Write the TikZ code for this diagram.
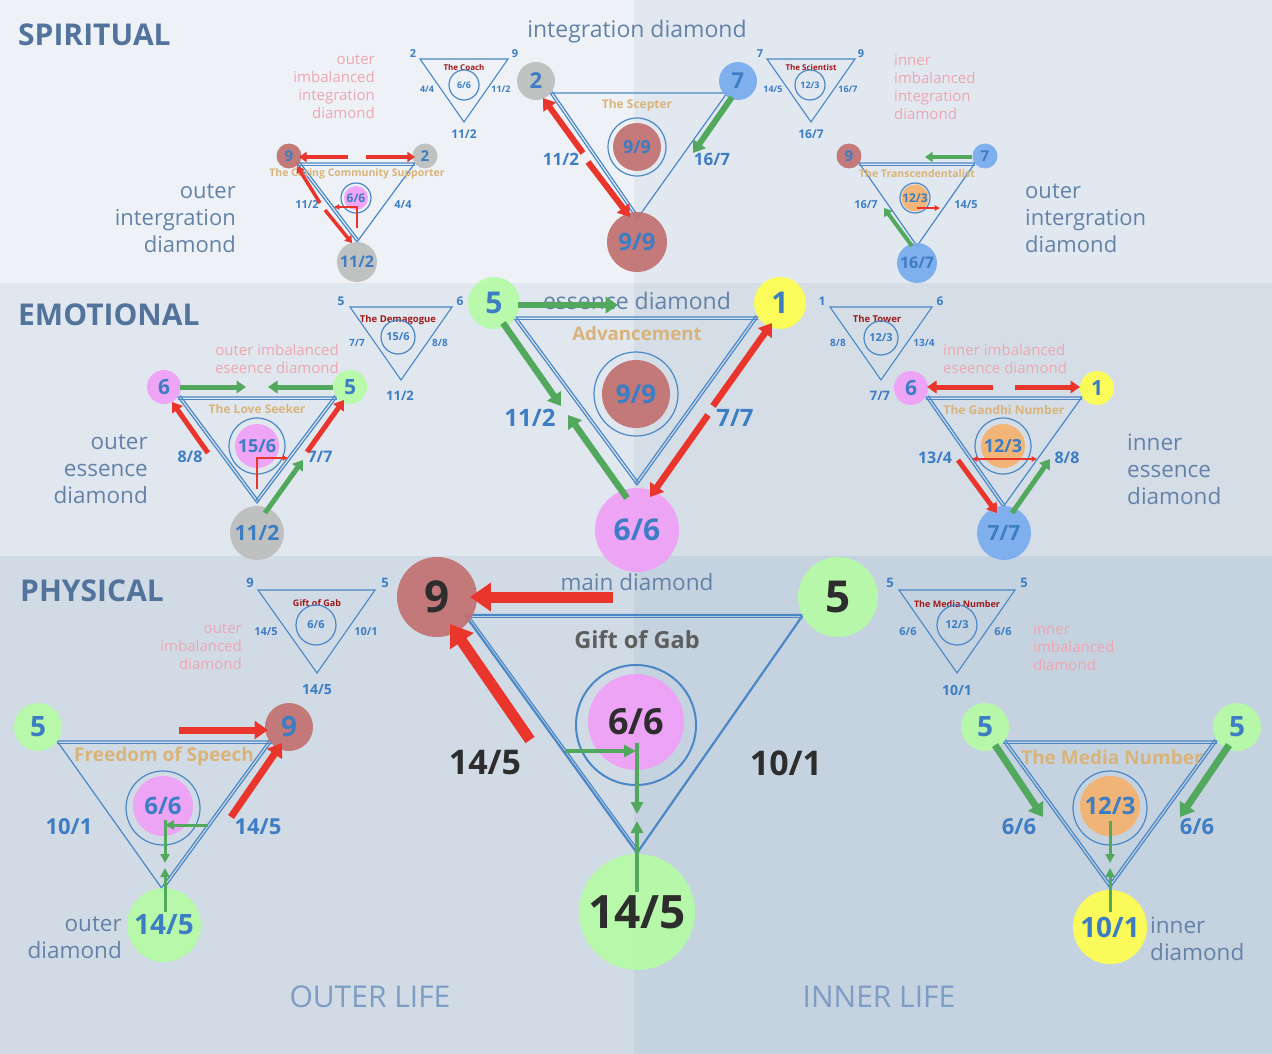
\documentclass[tikz,border=0pt]{standalone}
\usepackage{fontspec}
\setmainfont{Open Sans}
\usetikzlibrary{arrows.meta,calc}
\definecolor{bgAL}{HTML}{EEF2F7}
\definecolor{bgAR}{HTML}{E2E8F0}
\definecolor{bgBL}{HTML}{E1E7EE}
\definecolor{bgBR}{HTML}{D5DEE7}
\definecolor{bgCL}{HTML}{D1DBE5}
\definecolor{bgCR}{HTML}{C5D2DF}
\definecolor{blueT}{HTML}{3C7DC3}
\definecolor{lineC}{HTML}{4A87C6}
\definecolor{headC}{HTML}{52739C}
\definecolor{greyT}{HTML}{6482A8}
\definecolor{pinkT}{HTML}{EDA7B2}
\definecolor{goldT}{HTML}{D9B47A}
\definecolor{dredT}{HTML}{9E1A1A}
\definecolor{darkT}{HTML}{2D2D2D}
\definecolor{gabT}{HTML}{5E5E5E}
\definecolor{lifeT}{HTML}{7E9CC4}
\definecolor{cGrey}{HTML}{BDBDBD}
\definecolor{cRed}{HTML}{C27070}
\definecolor{cBlue}{HTML}{78ABEE}
\definecolor{cPink}{HTML}{F0A0F7}
\definecolor{cGreen}{HTML}{B5FBA6}
\definecolor{cYellow}{HTML}{FFFF4F}
\definecolor{cOrange}{HTML}{F3B26E}
\definecolor{aRed}{HTML}{E9352B}
\definecolor{aGreen}{HTML}{52A95D}
\newcommand{\myfs}[2]{\fontsize{#1}{#2}\selectfont}
\newcommand{\dside}[3][tri]{\draw[#1] ($(#2)!2.6pt!-90:(#3)$) -- ($(#3)!2.6pt!90:(#2)$);}
\begin{document}
\begin{tikzpicture}[x=1pt,y=-1pt,
  tri/.style={draw=lineC, line width=1.2pt},
  trib/.style={draw=lineC, line width=2.2pt},
  stri/.style={draw=lineC, line width=1.1pt},
  vc/.style n args={3}{circle, inner sep=0pt, minimum size=#1, fill=#2, fill opacity=.92, text opacity=1, text=blueT, font=\bfseries\myfs{#3}{#3}},
  vd/.style n args={3}{circle, inner sep=0pt, minimum size=#1, fill=#2, fill opacity=.92, text opacity=1, text=darkT, font=\bfseries\myfs{#3}{#3}},
  ring/.style={circle, draw=lineC, line width=1.2pt, minimum size=#1, inner sep=0pt},
  lab/.style={text=blueT, font=\bfseries\myfs{#1}{#1}, inner sep=0pt},
  dlab/.style={text=darkT, font=\bfseries\myfs{#1}{#1}, inner sep=0pt},
  ttl/.style={text=goldT, font=\bfseries\myfs{#1}{#1}, inner sep=0pt},
  stl/.style={text=dredT, font=\bfseries\myfs{#1}{#1}, inner sep=0pt},
  head/.style={text=headC, font=\bfseries\myfs{30}{30}, inner sep=0pt, anchor=west},
  gtx/.style n args={2}{text=greyT, font=\myfs{#1}{#2}, inner sep=0pt},
  ptx/.style={text=pinkT, font=\myfs{15}{18}, inner sep=0pt},
  ra/.style={draw=aRed, line width=#1, -{Triangle[length=0pt 1.9 0, width=0pt 2.5 0]}},
  ga/.style={draw=aGreen, line width=#1, -{Triangle[length=0pt 1.9 0, width=0pt 2.5 0]}},
  rt/.style={draw=aRed, line width=#1, -{Triangle[length=0pt 3 0, width=0pt 3 0]}},
  gt/.style={draw=aGreen, line width=#1, -{Triangle[length=0pt 3 0, width=0pt 3 0]}}]
\useasboundingbox (0,0) rectangle (1272,1054);
% ---------- backgrounds
\fill[bgAL] (0,0) rectangle (634,283);
\fill[bgAR] (634,0) rectangle (1272,283);
\fill[bgBL] (0,283) rectangle (634,556);
\fill[bgBR] (634,283) rectangle (1272,556);
\fill[bgCL] (0,556) rectangle (634,1054);
\fill[bgCR] (634,556) rectangle (1272,1054);
% ---------- headings and captions
\node[head] (hSp) at (18,35) {SPIRITUAL};
\node[head] (hEm) at (18,315) {EMOTIONAL};
\node[head] (hPh) at (20,591) {PHYSICAL};
\node[gtx={23}{26}] (tInt) at (637,32) {integration diamond};
\node[gtx={23}{26}] (tEss) at (637,301) {essence diamond};
\node[gtx={22.5}{26}] (tMain) at (637,582) {main diamond};
\node[gtx={22}{27}, align=right, anchor=east] (tOI) at (236,218) {outer\\intergration\\diamond};
\node[gtx={22}{27}, align=left, anchor=west] (tII) at (1025,218) {outer\\intergration\\diamond};
\node[gtx={22.5}{27}, align=right, anchor=east] (tOE) at (148,469) {outer\\essence\\diamond};
\node[gtx={22.5}{27}, align=left, anchor=west] (tIE) at (1127,469) {inner\\essence\\diamond};
\node[gtx={22.5}{27}, align=right, anchor=east] (tOD) at (122,938) {outer\\diamond};
\node[gtx={22.5}{27}, align=left, anchor=west] (tID) at (1150,939) {inner\\diamond};
\node[ptx, align=right, anchor=east] (pOI) at (375,87) {outer\\imbalanced\\integration\\diamond};
\node[ptx, align=left, anchor=west] (pII) at (894,87) {inner\\imbalanced\\integration\\diamond};
\node[ptx, align=right, anchor=east] (pOE) at (339,359) {outer imbalanced\\eseence diamond};
\node[ptx, align=left, anchor=west] (pIE) at (943,359) {inner imbalanced\\eseence diamond};
\node[ptx, align=right, anchor=east] (pOD) at (242,647) {outer\\imbalanced\\diamond};
\node[ptx, align=left, anchor=west] (pID) at (1033,647) {inner\\imbalanced\\diamond};
\node[text=lifeT, font=\myfs{30}{30}, inner sep=0pt] (tOL) at (370,997) {OUTER LIFE};
\node[text=lifeT, font=\myfs{30}{30}, inner sep=0pt] (tIL) at (879,997) {INNER LIFE};

% ================= SPIRITUAL
% --- small: The Coach
\coordinate (ssA) at (420,59); \coordinate (ssB) at (508,59); \coordinate (ssC) at (464,122);
\draw[stri] (ssA) -- (ssB) -- (ssC) -- cycle;
\node[lab=11] (ss2) at (413,54) {2};
\node[lab=11] (ss9) at (515,54) {9};
\node[lab=9] (ssl1) at (427,89) {4/4};
\node[lab=9] (ssl2) at (501,89) {11/2};
\node[lab=12] (ssl3) at (464,134) {11/2};
\node[stl=8] (sst) at (464,68) {The Coach};
\node[ring={30pt}, text=blueT, font=\bfseries\myfs{9}{9}] (ssR) at (464,85) {6/6};
% --- small: The Scientist
\coordinate (rsA) at (767,59); \coordinate (rsB) at (855,59); \coordinate (rsC) at (811,122);
\draw[stri] (rsA) -- (rsB) -- (rsC) -- cycle;
\node[lab=11] (rs7) at (760,54) {7};
\node[lab=11] (rs9) at (861,54) {9};
\node[lab=9] (rsl1) at (773,89) {14/5};
\node[lab=9] (rsl2) at (848,89) {16/7};
\node[lab=12] (rsl3) at (811,134) {16/7};
\node[stl=8] (rst) at (811,68) {The Scientist};
\node[ring={30pt}, text=blueT, font=\bfseries\myfs{9}{9}] (rsR) at (810,85) {12/3};
% --- center: The Scepter
\coordinate (scA) at (550,93); \coordinate (scB) at (727,93); \coordinate (scC) at (637,219);
\draw[tri] (scA) -- (scB) -- (scC) -- cycle;
\dside{scC}{scA}
\node[ttl=12] (sct) at (637,105) {The Scepter};
\node[ring={58pt}] (scR) at (637,147) {};
\node[vc={48pt}{cRed}{18}] (scM) at (637,147) {9/9};
\node[vc={38pt}{cGrey}{22}] (sc2) at (536,81) {2};
\node[vc={38pt}{cBlue}{22}] (sc7) at (738,81) {7};
\node[vc={60pt}{cRed}{24}] (sc99) at (637,242) {9/9};
\node[lab=17] (scl1) at (561,159) {11/2};
\node[lab=17] (scl2) at (712,159) {16/7};
\coordinate (scr1) at (583,153); \coordinate (scr2) at (543,98);
\coordinate (scr3) at (588,162); \coordinate (scr4) at (630,217);
\coordinate (scg1) at (732,97); \coordinate (scg2) at (693,153);
\draw[ra=6pt] (scr1) -- (scr2);
\draw[ra=6pt] (scr3) -- (scr4);
\draw[ga=6pt] (scg1) -- (scg2);
% --- left: The Caring Community Supporter
\coordinate (slA) at (297,163); \coordinate (slB) at (415,163); \coordinate (slC) at (357,242);
\draw[tri] (slA) -- (slB) -- (slC) -- cycle;
\dside{slA}{slB}\dside{slC}{slA}
\node[ring={30pt}] (slR) at (356,198) {};
\node[vc={24pt}{cPink}{12}] (slM) at (356,198) {6/6};
\node[vc={25pt}{cRed}{15}] (sl9) at (289,156) {9};
\node[vc={25pt}{cGrey}{15}] (sl2) at (425,156) {2};
\node[vc={40pt}{cGrey}{16}] (sl112) at (357,262) {11/2};
\node[ttl={10.5}] (slt) at (357,174) {The Caring Community Supporter};
\node[lab=11] (sll1) at (307,205) {11/2};
\node[lab=11] (sll2) at (403,205) {4/4};
\coordinate (slr1) at (348,157); \coordinate (slr2) at (299,157);
\coordinate (slr3) at (366,157); \coordinate (slr4) at (415,157);
\coordinate (slr5) at (320,203); \coordinate (slr6) at (297,166);
\coordinate (slr7) at (325,210); \coordinate (slr8) at (352,243);
\draw[ra=4pt] (slr1) -- (slr2);
\draw[ra=4pt] (slr3) -- (slr4);
\draw[ra=3.5pt] (slr5) -- (slr6);
\draw[ra=3.5pt] (slr7) -- (slr8);
\coordinate (slk1) at (357,228); \coordinate (slk2) at (357,207); \coordinate (slk3) at (334,207);
\draw[rt=1.8pt] (slk1) -- (slk2) -- (slk3);
% --- right: The Transcendentalist
\coordinate (srA) at (859,163); \coordinate (srB) at (975,163); \coordinate (srC) at (917,246);
\draw[tri] (srA) -- (srB) -- (srC) -- cycle;
\dside{srA}{srB}
\node[ring={30pt}] (srR) at (915,198) {};
\node[vc={24pt}{cOrange}{12}] (srM) at (915,198) {12/3};
\node[vc={25pt}{cRed}{15}] (sr9) at (849,156) {9};
\node[vc={25pt}{cBlue}{15}] (sr7) at (985,156) {7};
\node[vc={40pt}{cBlue}{16}] (sr167) at (917,263) {16/7};
\node[ttl={10.5}] (srt) at (917,174) {The Transcendentalist};
\node[lab=11] (srl1) at (866,205) {16/7};
\node[lab=11] (srl2) at (966,205) {14/5};
\coordinate (srg1) at (972,157); \coordinate (srg2) at (925,157);
\coordinate (srg3) at (912,246); \coordinate (srg4) at (884,208);
\coordinate (srk1) at (917,208); \coordinate (srk2) at (940,208);
\draw[ga=4pt] (srg1) -- (srg2);
\draw[ga=4pt] (srg3) -- (srg4);
\draw[rt=1.8pt] (srk1) -- (srk2);

% ================= EMOTIONAL
% --- small: The Demagogue
\coordinate (esA) at (350,307); \coordinate (esB) at (452,307); \coordinate (esC) at (401,380);
\draw[stri] (esA) -- (esB) -- (esC) -- cycle;
\node[lab=12] (es5) at (341,301) {5};
\node[lab=12] (es6) at (460,301) {6};
\node[lab=10] (esl1) at (357,343) {7/7};
\node[lab=10] (esl2) at (440,343) {8/8};
\node[lab=13] (esl3) at (400,396) {11/2};
\node[stl={9.5}] (est) at (398,320) {The Demagogue};
\node[ring={34pt}, text=blueT, font=\bfseries\myfs{11}{11}] (esR) at (398,337) {15/6};
% --- small: The Tower
\coordinate (tsA) at (830,307); \coordinate (tsB) at (932,307); \coordinate (tsC) at (881,380);
\draw[stri] (tsA) -- (tsB) -- (tsC) -- cycle;
\node[lab=12] (ts1) at (822,301) {1};
\node[lab=12] (ts6) at (940,301) {6};
\node[lab=10] (tsl1) at (838,343) {8/8};
\node[lab=10] (tsl2) at (924,343) {13/4};
\node[lab=13] (tsl3) at (880,396) {7/7};
\node[stl={9.5}] (tst) at (877,319) {The Tower};
\node[ring={34pt}, text=blueT, font=\bfseries\myfs{11}{11}] (tsR) at (881,338) {12/3};
% --- center: Advancement
\coordinate (ecA) at (513,317); \coordinate (ecB) at (758,317); \coordinate (ecC) at (637,485);
\draw[tri] (ecA) -- (ecB) -- (ecC) -- cycle;
\dside{ecA}{ecB}\dside{ecB}{ecC}\dside{ecC}{ecA}
\node[ttl={18.7}] (ect) at (637,333) {Advancement};
\node[ring={84pt}] (ecR) at (636,394) {};
\node[vc={68pt}{cRed}{26}] (ecM) at (636,394) {9/9};
\node[vc={52pt}{cGreen}{30}] (ec5) at (494,303) {5};
\node[vc={52pt}{cYellow}{30}] (ec1) at (780,303) {1};
\node[vc={84pt}{cPink}{30}] (ec66) at (637,530) {6/6};
\node[lab=24] (ecl1) at (530,418) {11/2};
\node[lab=24] (ecl2) at (735,418) {7/7};
\coordinate (ecg1) at (518,305); \coordinate (ecg2) at (618,305);
\coordinate (ecg3) at (503,323); \coordinate (ecg4) at (561,406);
\coordinate (ecg5) at (627,498); \coordinate (ecg6) at (568,415);
\coordinate (ecr1) at (713,406); \coordinate (ecr2) at (772,323);
\coordinate (ecr3) at (708,415); \coordinate (ecr4) at (650,497);
\draw[ga=6.5pt] (ecg1) -- (ecg2);
\draw[ga=6.5pt] (ecg3) -- (ecg4);
\draw[ga=6.5pt] (ecg5) -- (ecg6);
\draw[ra=6.5pt] (ecr1) -- (ecr2);
\draw[ra=6.5pt] (ecr3) -- (ecr4);
% --- left: The Love Seeker
\coordinate (elA) at (178,397); \coordinate (elB) at (337,397); \coordinate (elC) at (257,503);
\draw[tri] (elA) -- (elB) -- (elC) -- cycle;
\dside{elA}{elB}\dside{elB}{elC}\dside{elC}{elA}
\node[ttl=12] (elt) at (257,409) {The Love Seeker};
\node[ring={56pt}] (elR) at (257,446) {};
\node[vc={44pt}{cPink}{18}] (elM) at (257,446) {15/6};
\node[vc={34pt}{cPink}{21}] (el6) at (164,387) {6};
\node[vc={34pt}{cGreen}{21}] (el5) at (350,387) {5};
\node[vc={54pt}{cGrey}{21}] (el112) at (257,533) {11/2};
\node[lab=16] (ell1) at (190,457) {8/8};
\node[lab=16] (ell2) at (320,457) {7/7};
\coordinate (elg1) at (180,387); \coordinate (elg2) at (246,387);
\coordinate (elg3) at (333,387); \coordinate (elg4) at (268,387);
\coordinate (elr1) at (208,453); \coordinate (elr2) at (172,402);
\coordinate (elr3) at (307,452); \coordinate (elr4) at (344,400);
\coordinate (elg5) at (265,513); \coordinate (elg6) at (303,460);
\coordinate (elk1) at (257,489); \coordinate (elk2) at (257,458); \coordinate (elk3) at (288,458);
\draw[ga=5pt] (elg1) -- (elg2);
\draw[ga=5pt] (elg3) -- (elg4);
\draw[ra=5pt] (elr1) -- (elr2);
\draw[ra=5pt] (elr3) -- (elr4);
\draw[ga=5pt] (elg5) -- (elg6);
\draw[rt=1.8pt] (elk1) -- (elk2) -- (elk3);
% --- right: The Gandhi Number
\coordinate (erA) at (926,397); \coordinate (erB) at (1082,397); \coordinate (erC) at (1003,507);
\draw[tri] (erA) -- (erB) -- (erC) -- cycle;
\dside{erA}{erB}\dside{erC}{erA}
\node[ttl=12] (ert) at (1004,410) {The Gandhi Number};
\node[ring={56pt}] (erR) at (1003,446) {};
\node[vc={44pt}{cOrange}{18}] (erM) at (1003,446) {12/3};
\node[vc={34pt}{cPink}{21}] (er6) at (911,388) {6};
\node[vc={34pt}{cYellow}{21}] (er1) at (1097,388) {1};
\node[vc={54pt}{cBlue}{21}] (er77) at (1004,533) {7/7};
\node[lab=16] (erl1) at (935,458) {13/4};
\node[lab=16] (erl2) at (1067,458) {8/8};
\coordinate (err1) at (993,387); \coordinate (err2) at (927,387);
\coordinate (err3) at (1015,387); \coordinate (err4) at (1080,387);
\coordinate (err5) at (958,460); \coordinate (err6) at (997,513);
\coordinate (erg1) at (1012,513); \coordinate (erg2) at (1050,459);
\coordinate (erk1) at (972,459); \coordinate (erk2) at (1037,459);
\draw[ra=5pt] (err1) -- (err2);
\draw[ra=5pt] (err3) -- (err4);
\draw[ra=5pt] (err5) -- (err6);
\draw[ga=5pt] (erg1) -- (erg2);
\draw[rt=1.8pt, {Triangle[length=0pt 3 0, width=0pt 3 0]}-{Triangle[length=0pt 3 0, width=0pt 3 0]}] (erk1) -- (erk2);

% ================= PHYSICAL
% --- small: Gift of Gab
\coordinate (psA) at (258,590); \coordinate (psB) at (375,590); \coordinate (psC) at (317,673);
\draw[stri] (psA) -- (psB) -- (psC) -- cycle;
\node[lab=13] (ps9) at (250,583) {9};
\node[lab=13] (ps5) at (385,583) {5};
\node[lab=11] (psl1) at (266,632) {14/5};
\node[lab=11] (psl2) at (366,632) {10/1};
\node[lab=14] (psl3) at (317,690) {14/5};
\node[stl=9] (pst) at (317,603) {Gift of Gab};
\node[ring={40pt}, text=blueT, font=\bfseries\myfs{11}{11}] (psR) at (316,625) {6/6};
% --- small: The Media Number
\coordinate (msA) at (899,590); \coordinate (msB) at (1015,590); \coordinate (msC) at (957,673);
\draw[stri] (msA) -- (msB) -- (msC) -- cycle;
\node[lab=13] (ms5a) at (890,583) {5};
\node[lab=13] (ms5b) at (1024,583) {5};
\node[lab=11] (msl1) at (908,632) {6/6};
\node[lab=11] (msl2) at (1003,632) {6/6};
\node[lab=14] (msl3) at (957,690) {10/1};
\node[stl=9] (mst) at (957,604) {The Media Number};
\node[ring={40pt}, text=blueT, font=\bfseries\myfs{11}{11}] (msR) at (957,625) {12/3};
% --- center: Gift of Gab
\coordinate (pcA) at (465,615); \coordinate (pcB) at (803,615); \coordinate (pcC) at (637,853);
\draw[trib] (pcA) -- (pcB) -- (pcC) -- cycle;
\dside[tri]{pcA}{pcB}\dside[tri]{pcC}{pcA}
\node[text=gabT, font=\bfseries\myfs{23.5}{23.5}, inner sep=0pt] (pct) at (637,640) {Gift of Gab};
\node[ring={120pt}, line width=2pt] (pcR) at (636,725) {};
\node[vd={96pt}{cPink}{36}] (pcM) at (636,722) {6/6};
\node[vd={80pt}{cRed}{44}] (pc9) at (437,597) {9};
\node[vd={80pt}{cGreen}{44}] (pc5) at (838,597) {5};
\node[vd={116pt}{cGreen}{46}] (pc145) at (637,912) {14/5};
\node[dlab=34] (pcl1) at (485,763) {14/5};
\node[dlab=34] (pcl2) at (786,763) {10/1};
\coordinate (pcr1) at (613,597); \coordinate (pcr2) at (470,597);
\coordinate (pcr3) at (530,740); \coordinate (pcr4) at (450,624);
\coordinate (pcg1) at (565,751); \coordinate (pcg2) at (636,751);
\coordinate (pcg3) at (637,743); \coordinate (pcg4) at (637,814);
\coordinate (pcg5) at (637,892); \coordinate (pcg6) at (637,821);
\draw[ra=11pt] (pcr1) -- (pcr2);
\draw[ra=11pt] (pcr3) -- (pcr4);
\draw[gt=4pt] (pcg1) -- (pcg2);
\draw[gt=4pt] (pcg3) -- (pcg4);
\draw[gt=4pt] (pcg5) -- (pcg6);
% --- left: Freedom of Speech
\coordinate (plA) at (57,741); \coordinate (plB) at (272,741); \coordinate (plC) at (163,890);
\draw[tri] (plA) -- (plB) -- (plC) -- cycle;
\dside{plA}{plB}\dside{plB}{plC}
\node[ttl=19] (plt) at (164,757) {Freedom of Speech};
\node[ring={74pt}] (plR) at (163,808) {};
\node[vc={60pt}{cPink}{24}] (plM) at (163,806) {6/6};
\node[vc={48pt}{cGreen}{28}] (pl5) at (38,727) {5};
\node[vc={48pt}{cRed}{28}] (pl9) at (289,727) {9};
\node[vc={74pt}{cGreen}{28}] (pl145) at (164,925) {14/5};
\node[lab=22] (pll1) at (69,827) {10/1};
\node[lab=22] (pll2) at (258,827) {14/5};
\coordinate (plr1) at (179,730); \coordinate (plr2) at (268,730);
\coordinate (plr3) at (231,817); \coordinate (plr4) at (282,743);
\coordinate (plg1) at (208,825); \coordinate (plg2) at (165,825);
\coordinate (plg3) at (165,820); \coordinate (plg4) at (165,863);
\coordinate (plg5) at (165,912); \coordinate (plg6) at (165,868);
\draw[ra=7pt] (plr1) -- (plr2);
\draw[ra=7pt] (plr3) -- (plr4);
\draw[gt=3pt] (plg1) -- (plg2);
\draw[gt=3pt] (plg3) -- (plg4);
\draw[gt=3pt] (plg5) -- (plg6);
% --- right: The Media Number
\coordinate (prA) at (1003,741); \coordinate (prB) at (1217,741); \coordinate (prC) at (1110,888);
\draw[tri] (prA) -- (prB) -- (prC) -- cycle;
\dside{prA}{prB}\dside{prB}{prC}\dside{prC}{prA}
\node[ttl=19] (prt) at (1112,757) {The Media Number};
\node[ring={74pt}] (prR) at (1110,808) {};
\node[vc={60pt}{cOrange}{24}] (prM) at (1110,806) {12/3};
\node[vc={48pt}{cGreen}{28}] (pr5a) at (985,727) {5};
\node[vc={48pt}{cGreen}{28}] (pr5b) at (1237,727) {5};
\node[vc={74pt}{cYellow}{28}] (pr101) at (1110,927) {10/1};
\node[lab=22] (prl1) at (1019,827) {6/6};
\node[lab=22] (prl2) at (1197,827) {6/6};
\coordinate (prg1) at (995,745); \coordinate (prg2) at (1043,817);
\coordinate (prg3) at (1229,745); \coordinate (prg4) at (1180,817);
\coordinate (prg5) at (1110,821); \coordinate (prg6) at (1110,863);
\coordinate (prg7) at (1110,912); \coordinate (prg8) at (1110,868);
\draw[ga=7pt] (prg1) -- (prg2);
\draw[ga=7pt] (prg3) -- (prg4);
\draw[gt=3pt] (prg5) -- (prg6);
\draw[gt=3pt] (prg7) -- (prg8);
\end{tikzpicture}
\end{document}
